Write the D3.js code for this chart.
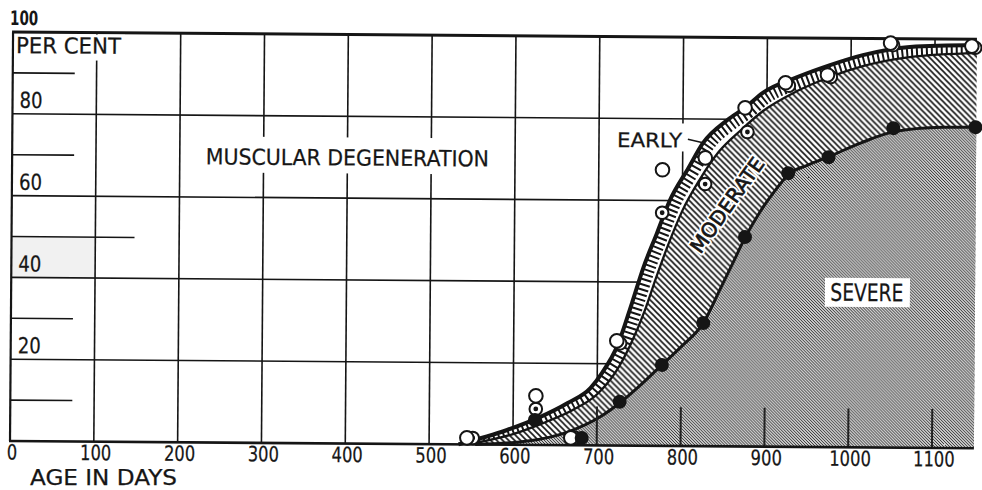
<!DOCTYPE html>
<html><head><meta charset="utf-8">
<script src="https://cdn.jsdelivr.net/npm/d3@7"></script>
<style>
html,body{margin:0;padding:0;background:#fff;}
svg{display:block;}
text{font-family:'DejaVu Sans',sans-serif;fill:#161616;}
</style></head><body>
<svg id="chart" width="982" height="490"></svg>
<script>
// ---------------- data (age in days, per cent) ----------------
const xTickValues = [0,100,200,300,400,500,600,700,800,900,1000,1100];
const yTickValues = [20,40,60,80];
const yMinorValues = [10,30,50,70,90];
const severeTickValues = [700,800,900,1000,1100];
const titleText = "MUSCULAR DEGENERATION";
const yTitle = "PER CENT";
const xTitle = "AGE IN DAYS";
const topLabel = "100";
const bandLabels = ["EARLY","MODERATE","SEVERE"];

// upper boundary of "early" band (any degeneration)
const earlyCurve = [[535,0],[593,3.6],[632,6.8],[665,10.3],[692,14],[706,17.8],[724,24.5],[741,35],[754,43.5],[770,52],[785,60],[807,68],[824,74.1],[853,79.8],[875,83],[895,86.5],[936,90.4],[975,93.4],[1014,95.9],[1070,98],[1150,98.6]];
// boundary early / moderate
const moderateCurve = [[545,0],[600,2.6],[635,5.3],[670,8.5],[700,12.5],[722,18],[740,25],[756,33],[770,41.5],[785,50],[800,57.5],[820,65],[843,72],[870,77.5],[895,82],[936,87],[975,90.5],[1014,93.2],[1070,95.5],[1150,96.6]];
// boundary moderate / severe
const severeCurve = [[555,0],[620,1],[665,3.2],[704,7],[727,10.4],[750,14.5],[777,19.8],[800,24.3],[826,30.1],[846,38.5],[860,44.5],[875,51],[893,57.5],[910,62.5],[926,66.5],[950,69],[974,71],[1012,74.4],[1051,77.2],[1110,78.4],[1150,78.5]];

const openPoints   = [[545,1.6],[627,12],[669,1.8],[723,25.6],[776,67.5],[827,70.5],[874,82.8],[922,89],[972,91],[1047,98.9],[1144,98.3]];
const dottedPoints = [[552,1.6],[627,8.8],[674,1.8],[727,25],[776,57],[827,64.1],[877,76.9],[926,88.3],[976,90.5],[1050,98.4],[1148,97.9]];
const filledPoints = [[626,6.1],[682,1.8],[727,10.7],[777,19.8],[826,30.1],[875,51.2],[926,66.9],[974,70.9],[1051,78.1],[1149,78.5]];

// ---------------- drawing ----------------
const X_END = 1150;
const x = d3.scaleLinear().domain([0,1100]).range([10,932]);
const y = d3.scaleLinear().domain([0,100]).range([441,32]);
const ink = "#151515";

const svg = d3.select("#chart");
const defs = svg.append("defs");

const pm = defs.append("pattern").attr("id","hatchMod").attr("patternUnits","userSpaceOnUse")
  .attr("width",6).attr("height",6);
pm.append("rect").attr("width",6).attr("height",6).attr("fill","#fff");
pm.append("path").attr("d","M0,0L6,6M-1,5L1,7M5,-1L7,1").attr("stroke",ink).attr("stroke-width",1.6);

const ps = defs.append("pattern").attr("id","hatchSev").attr("patternUnits","userSpaceOnUse")
  .attr("width",3).attr("height",3);
ps.append("rect").attr("width",3).attr("height",3).attr("fill","#cccccc");
ps.append("path").attr("d","M0,0L3,3M-1,2L1,4M2,-1L4,1").attr("stroke","#383838").attr("stroke-width",1);

const g = svg.append("g").attr("transform","rotate(0.43,10,441)");

const area = d3.area().x(d=>x(d[0])).y0(y(0)).y1(d=>y(d[1])).curve(d3.curveMonotoneX);
const line = d3.line().x(d=>x(d[0])).y(d=>y(d[1])).curve(d3.curveMonotoneX);

defs.append("clipPath").attr("id","earlyClip").append("path").datum(earlyCurve).attr("d",area);

// light cell behind "40"
g.append("rect").attr("x",x(0)).attr("y",y(50)).attr("width",x(100)-x(0)).attr("height",y(40)-y(50)).attr("fill","#f1f1f1");

// grid
g.append("g").selectAll("line").data(xTickValues.filter(v=>v>0)).join("line")
  .attr("x1",d=>x(d)).attr("x2",d=>x(d)).attr("y1",y(0)).attr("y2",y(100))
  .attr("stroke",ink).attr("stroke-width",1.6);
g.append("g").selectAll("line").data(yTickValues).join("line")
  .attr("x1",x(0)).attr("x2",x(X_END)).attr("y1",d=>y(d)).attr("y2",d=>y(d))
  .attr("stroke",ink).attr("stroke-width",1.6);
g.append("g").selectAll("line").data(yMinorValues).join("line")
  .attr("x1",x(0)).attr("x2",d=>d===50?x(0)+123:x(0)+62).attr("y1",d=>y(d)).attr("y2",d=>y(d))
  .attr("stroke",ink).attr("stroke-width",1.6);

// bands
g.append("path").datum(earlyCurve).attr("d",area).attr("fill","#fff");
g.append("path").datum(earlyCurve).attr("d",line).attr("fill","none").attr("clip-path","url(#earlyClip)")
  .attr("stroke",ink).attr("stroke-width",24).attr("stroke-dasharray","2 3");
g.append("path").datum(moderateCurve).attr("d",area).attr("fill","url(#hatchMod)");
g.append("path").datum(severeCurve).attr("d",area).attr("fill","url(#hatchSev)");

// curves
g.append("path").datum(earlyCurve).attr("d",line).attr("fill","none").attr("stroke",ink).attr("stroke-width",4);
g.append("path").datum(moderateCurve).attr("d",line).attr("fill","none").attr("stroke",ink).attr("stroke-width",2.3);
g.append("path").datum(severeCurve).attr("d",line).attr("fill","none").attr("stroke",ink).attr("stroke-width",3);

// ticks inside severe region
g.append("g").selectAll("line").data(severeTickValues).join("line")
  .attr("x1",d=>x(d)).attr("x2",d=>x(d)).attr("y1",y(0)).attr("y2",y(9.5))
  .attr("stroke","#222").attr("stroke-width",2);

// frame
g.append("line").attr("x1",x(0)).attr("x2",x(0)).attr("y1",y(0)).attr("y2",y(100)).attr("stroke",ink).attr("stroke-width",2.2);
g.append("line").attr("x1",x(0)-1).attr("x2",x(X_END)).attr("y1",y(100)).attr("y2",y(100)).attr("stroke",ink).attr("stroke-width",3);
g.append("line").attr("x1",x(0)-1).attr("x2",x(X_END)).attr("y1",y(0)).attr("y2",y(0)).attr("stroke",ink).attr("stroke-width",2.6);

// points
const dg = g.append("g");
dg.selectAll("circle.d").data(dottedPoints).join("circle").attr("class","d")
  .attr("cx",d=>x(d[0])).attr("cy",d=>y(d[1])).attr("r",6.3).attr("fill","#fff").attr("stroke",ink).attr("stroke-width",2);
dg.selectAll("circle.dd").data(dottedPoints).join("circle").attr("class","dd")
  .attr("cx",d=>x(d[0])).attr("cy",d=>y(d[1])).attr("r",2.4).attr("fill",ink);
g.append("g").selectAll("circle").data(openPoints).join("circle")
  .attr("cx",d=>x(d[0])).attr("cy",d=>y(d[1])).attr("r",6.8).attr("fill","#fff").attr("stroke",ink).attr("stroke-width",2);
g.append("g").selectAll("circle").data(filledPoints).join("circle")
  .attr("cx",d=>x(d[0])).attr("cy",d=>y(d[1])).attr("r",7).attr("fill",ink);

// ---------------- text ----------------
const thick = sel => sel.attr("stroke","#161616").attr("stroke-width",0.25);
// top-left 100
g.append("text").attr("x",x(0)-3).attr("y",y(100)-7).attr("font-size",20).attr("font-weight","bold")
  .attr("textLength",28).attr("lengthAdjust","spacingAndGlyphs").text(topLabel);
// PER CENT
g.append("rect").attr("x",x(0)+2).attr("y",y(100)+2).attr("width",110).attr("height",26).attr("fill","#fff");
g.append("text").attr("x",x(0)+3).attr("y",y(100)+21).attr("font-size",22)
  .attr("textLength",105).attr("lengthAdjust","spacingAndGlyphs").text(yTitle).call(thick);
// y labels
g.append("g").selectAll("text").data(yTickValues).join("text")
  .attr("x",x(0)+7).attr("y",d=>y(d)-6).attr("font-size",22)
  .attr("textLength",23).attr("lengthAdjust","spacingAndGlyphs").text(d=>d).call(thick);
// x labels
g.append("g").selectAll("text").data(xTickValues).join("text")
  .attr("x",d=>x(d)+2).attr("y",y(0)+18.5).attr("text-anchor","middle").attr("font-size",21)
  .attr("textLength",d=>String(d).length*10.4).attr("lengthAdjust","spacingAndGlyphs").text(d=>d).call(thick);
// axis title (outside the tilted group)
svg.append("text").attr("x",x(0)+20).attr("y",y(0)+43.8).attr("font-size",21)
  .attr("textLength",147).attr("lengthAdjust","spacingAndGlyphs").text(xTitle).call(thick);

// title in plot
g.append("rect").attr("x",x(400)-147).attr("y",y(68)-28).attr("width",294).attr("height",36).attr("fill","#fff");
g.append("text").attr("x",x(400)).attr("y",y(68)).attr("text-anchor","middle").attr("font-size",22)
  .attr("textLength",283).attr("lengthAdjust","spacingAndGlyphs").text(titleText).call(thick);

// EARLY
g.append("rect").attr("x",x(799)-70).attr("y",y(73)-24).attr("width",75).attr("height",28).attr("fill","#fff");
g.append("text").attr("x",x(799)).attr("y",y(73)).attr("text-anchor","end").attr("font-size",20)
  .attr("textLength",65).attr("lengthAdjust","spacingAndGlyphs").text(bandLabels[0]).call(thick);
g.append("line").attr("x1",x(806)).attr("y1",y(75)).attr("x2",x(824)).attr("y2",y(74.2))
  .attr("stroke",ink).attr("stroke-width",1.6);

// MODERATE (white halo, then dark letters)
const mg = g.append("g").attr("transform",`translate(${x(853.5)},${y(59)}) rotate(-55)`);
mg.append("text").attr("text-anchor","middle").attr("dominant-baseline","central").attr("font-size",20)
  .attr("fill","#fff").attr("stroke","#fff").attr("stroke-width",4.5).attr("stroke-linejoin","round")
  .attr("textLength",112).attr("lengthAdjust","spacingAndGlyphs").attr("aria-hidden","true").text(bandLabels[1]);
mg.append("text").attr("text-anchor","middle").attr("dominant-baseline","central").attr("font-size",20)
  .attr("stroke","#161616").attr("stroke-width",0.7)
  .attr("textLength",112).attr("lengthAdjust","spacingAndGlyphs").text(bandLabels[1]);

// SEVERE
g.append("rect").attr("x",x(1021)-42).attr("y",y(38)-14).attr("width",85).attr("height",29).attr("fill","#fff");
g.append("text").attr("x",x(1021)).attr("y",y(38)+9).attr("text-anchor","middle").attr("font-size",24)
  .attr("textLength",73).attr("lengthAdjust","spacingAndGlyphs").text(bandLabels[2]).call(thick);
</script>
</body></html>
